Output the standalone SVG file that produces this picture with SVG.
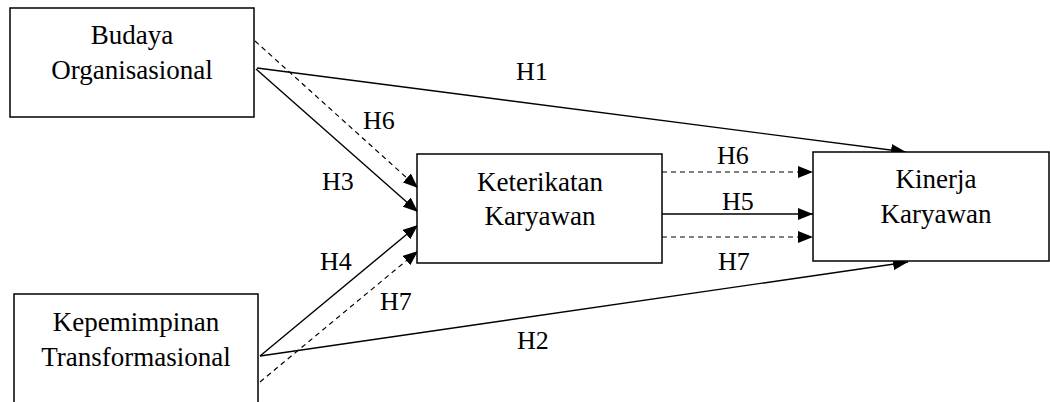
<svg xmlns="http://www.w3.org/2000/svg" width="1050" height="402" viewBox="0 0 1050 402">
<style>
.box{fill:#fff;stroke:#000;stroke-width:1.5}
.t{font-family:"Liberation Serif","Times New Roman",serif;font-size:27px;fill:#000;text-anchor:middle}
.l{font-family:"Liberation Serif","Times New Roman",serif;font-size:26px;fill:#000}
.c{fill:none;stroke:#000;stroke-width:1.4}
.d{fill:none;stroke:#000;stroke-width:1.2;stroke-dasharray:5 4}
</style>
<defs>
<marker id="ah" markerUnits="userSpaceOnUse" markerWidth="16" markerHeight="12" refX="15" refY="6" orient="auto">
<path d="M0,0 L15,6 L0,12 z" fill="#000"/>
</marker>
</defs>
<rect width="1050" height="402" fill="#fff"/>
<g id="connectors">
<line class="c" x1="257" y1="68" x2="906" y2="152" marker-end="url(#ah)"/>
<line class="d" x1="255" y1="41" x2="418" y2="188" marker-end="url(#ah)"/>
<line class="c" x1="256" y1="69" x2="418" y2="212" marker-end="url(#ah)"/>
<line class="c" x1="260" y1="356" x2="418" y2="225" marker-end="url(#ah)"/>
<line class="d" x1="260" y1="382" x2="418" y2="251" marker-end="url(#ah)"/>
<line class="c" x1="260" y1="356" x2="908" y2="262" marker-end="url(#ah)"/>
<line class="d" x1="662" y1="172" x2="813" y2="172" marker-end="url(#ah)"/>
<line class="c" x1="662" y1="214" x2="813" y2="214" marker-end="url(#ah)"/>
<line class="d" x1="662" y1="237" x2="813" y2="237" marker-end="url(#ah)"/>
<text class="l" x="516" y="80">H1</text>
<text class="l" x="363" y="129">H6</text>
<text class="l" x="322" y="190">H3</text>
<text class="l" x="320" y="270">H4</text>
<text class="l" x="380" y="310">H7</text>
<text class="l" x="517" y="349">H2</text>
<text class="l" x="717" y="164">H6</text>
<text class="l" x="722" y="210">H5</text>
<text class="l" x="718" y="270">H7</text>
</g>
<g id="budaya">
<rect class="box" x="10" y="8" width="244" height="109"/>
<text class="t" x="132" y="44">Budaya</text>
<text class="t" x="132" y="79">Organisasional</text>
</g>
<g id="kepemimpinan">
<rect class="box" x="14" y="294" width="244" height="120"/>
<text class="t" x="136" y="331">Kepemimpinan</text>
<text class="t" x="136" y="366">Transformasional</text>
</g>
<g id="keterikatan">
<rect class="box" x="417" y="154" width="245" height="109"/>
<text class="t" x="540" y="191">Keterikatan</text>
<text class="t" x="540" y="225">Karyawan</text>
</g>
<g id="kinerja">
<rect class="box" x="813" y="152" width="236" height="109"/>
<text class="t" x="936" y="188">Kinerja</text>
<text class="t" x="936" y="223">Karyawan</text>
</g>
</svg>
